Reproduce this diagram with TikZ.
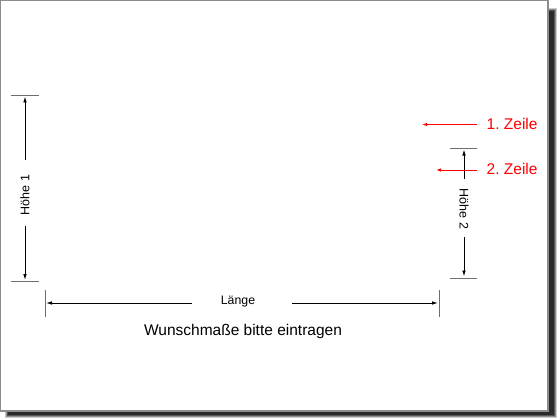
\documentclass[tikz,border=0pt]{standalone}
\usepackage{fontspec}
\setmainfont{Liberation Sans}
\usetikzlibrary{arrows.meta}
\definecolor{tickgray}{RGB}{110,110,110}
\definecolor{framegray}{RGB}{140,140,140}
\definecolor{zred}{RGB}{255,0,0}
\frenchspacing
\begin{document}
\begin{tikzpicture}[x=1pt,y=-1pt,
  dimline/.style={draw=black,line width=0.9pt,-{Latex[length=6pt,width=3.6pt]}},
  redline/.style={draw=zred,line width=0.9pt,-{Latex[length=5pt,width=3.4pt]}},
  tickline/.style={draw=tickgray,line width=0.8pt},
  dimtext/.style={font=\fontsize{12.5}{14}\selectfont,inner sep=0pt},
  redtext/.style={text=zred,font=\fontsize{15.5}{18}\selectfont,inner sep=0pt,anchor=base west},
  bigtext/.style={font=\fontsize{15.5}{18}\selectfont,inner sep=0pt,anchor=base}]
\useasboundingbox (0,0) rectangle (560,420);
\fill[white] (0,0) rectangle (560,420);
% shadow
\foreach \o/\op in {0/0.2,1/0.3,2/0.4,3/0.5} {
  \fill[black,opacity=\op] (5+\o,8+\o) rectangle (557-\o,418-\o);
}
\fill[white] (0,0) rectangle (548,411);
\draw[framegray,line width=1.2pt] (0.6,0.6) rectangle (548,411);
% Hoehe 1
\draw[tickline] (11,95.5) -- (39,95.5);
\draw[tickline] (11,281.7) -- (39,281.7);
\node[dimtext,rotate=90] (h1) at (25,195) {Höhe 1};
\coordinate (h1top) at (25,96.5);
\coordinate (h1bot) at (25,280);
\draw[dimline] (25,160) -- (h1top);
\draw[dimline] (25,225.7) -- (h1bot);
% Laenge
\draw[tickline] (45,290) -- (45,317);
\draw[tickline] (439,290) -- (439,317);
\node[dimtext,font=\fontsize{12.3}{14}\selectfont] (la) at (238,302) {Länge};
\coordinate (laL) at (46,303);
\coordinate (laR) at (438,303);
\draw[dimline] (192,303) -- (laL);
\draw[dimline] (292,303) -- (laR);
\node[bigtext] (wm) at (243,335.5) {Wunschmaße bitte eintragen};
% Hoehe 2
\draw[tickline] (450,148) -- (477,148);
\draw[tickline] (450,278) -- (477,278);
\node[dimtext,rotate=-90] (h2) at (464,209) {Höhe 2};
\coordinate (h2top) at (464,149.5);
\coordinate (h2bot) at (464,276.5);
\draw[dimline] (464,179) -- (h2top);
\draw[dimline] (464,237) -- (h2bot);
% Zeilen
\node[redtext] (z1) at (486.5,129.5) {1. Zeile};
\node[redtext] (z2) at (486.5,174.5) {2. Zeile};
\coordinate (z1tip) at (422,124.5);
\coordinate (z2tip) at (436,170);
\draw[redline] (477,124.5) -- (z1tip);
\draw[redline] (477,170) -- (z2tip);
\end{tikzpicture}
\end{document}
